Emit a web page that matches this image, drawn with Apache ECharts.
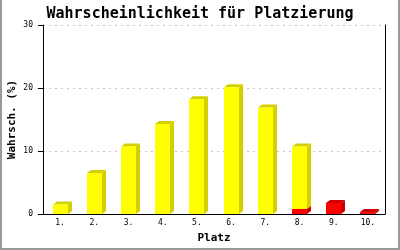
<!DOCTYPE html>
<html><head><meta charset="utf-8">
<script src="https://cdn.jsdelivr.net/npm/echarts@6/dist/echarts.min.js"></script>
<style>html,body{margin:0;padding:0;background:#fff}#c{width:400px;height:250px}</style>
</head><body><div id="c"></div>
<script>
const categories = ['1.','2.','3.','4.','5.','6.','7.','8.','9.','10.'];
const redValues = [0,0,0,0,0,0,0,0.8,1.75,0.3];
const yellowValues = [1.5,6.5,10.7,14.3,18.2,20.1,16.9,9.9,0,0];
const yTicks = [0,10,20,30];

const MONO = '"DejaVu Sans Mono","Liberation Mono",monospace';
function makeBox(front, dark){
  return function(params, api){
    const i = api.value(0), base = api.value(1), v = api.value(2);
    if (!(v > 0)) return null;
    const p0 = api.coord([i, base]);
    const p1 = api.coord([i, base + v]);
    const w = 15, dx = 4, dy = 3;
    const x0 = Math.round(p0[0] - w/2), x1 = x0 + w;
    const yb = p0[1], yt = p1[1];
    return {type:'group', children:[
      {type:'polygon', shape:{points:[[x1,yt],[x1+dx,yt-dy],[x1+dx,yb-dy],[x1,yb]]}, style:{fill:dark}},
      {type:'polygon', shape:{points:[[x0,yt],[x0+dx,yt-dy],[x1+dx,yt-dy],[x1,yt]]}, style:{fill:dark}},
      {type:'rect', shape:{x:x0, y:yt, width:w, height:yb-yt}, style:{fill:front}}
    ]};
  };
}
const redData = categories.map((c,i)=>[i, 0, redValues[i]]);
const yellowData = categories.map((c,i)=>[i, redValues[i], yellowValues[i]]);

const chart = echarts.init(document.getElementById('c'), null, {renderer:'canvas'});
chart.setOption({
  animation:false,
  backgroundColor:'#fff',
  title:{text:'Wahrscheinlichkeit für Platzierung', left:'center', top:2,
    textStyle:{fontFamily:MONO, fontSize:15, fontWeight:'bold', color:'#000'}},
  grid:{left:43, right:15, top:25, bottom:36, containLabel:false, outerBoundsMode:'none'},
  xAxis:{type:'category', data:categories, boundaryGap:true,
    name:'Platz', nameLocation:'middle', nameGap:19, nameMoveOverlap:false,
    nameTextStyle:{fontFamily:MONO, fontSize:11, fontWeight:'bold', color:'#000'},
    axisLine:{lineStyle:{color:'#000', width:1}}, axisTick:{show:false},
    axisLabel:{fontFamily:MONO, fontSize:8, color:'#000', margin:5}},
  yAxis:[{type:'value', min:0, max:30, interval:10,
    name:'Wahrsch. (%)', nameLocation:'middle', nameGap:25, nameRotate:90, nameMoveOverlap:false,
    nameTextStyle:{fontFamily:MONO, fontSize:11, fontWeight:'bold', color:'#000'},
    axisLine:{show:true, lineStyle:{color:'#000'}},
    axisTick:{show:true, length:5, lineStyle:{color:'#000'}},
    axisLabel:{fontFamily:MONO, fontSize:8, color:'#000', margin:10,
      formatter:v=>yTicks.includes(v)?String(v):''},
    splitLine:{show:true, lineStyle:{color:'#c4c4c4', type:[2,4], width:1}}},
   {type:'value', min:0, max:30, interval:10, position:'right',
    axisLine:{show:true, lineStyle:{color:'#000'}}, axisTick:{show:false},
    axisLabel:{show:false}, splitLine:{show:false}}],
  series:[
    {type:'custom', renderItem:makeBox('#ff0000','#cc0000'), data:redData, encode:{x:0,y:[1,2]}, z:2},
    {type:'custom', renderItem:makeBox('#ffff00','#d4d000'), data:yellowData, encode:{x:0,y:[1,2]}, z:3}
  ],
  graphic:[
    {type:'line', shape:{x1:1,y1:0,x2:1,y2:250}, style:{stroke:'#999',lineWidth:2}},
    {type:'line', shape:{x1:399,y1:0,x2:399,y2:250}, style:{stroke:'#999',lineWidth:2}},
    {type:'line', shape:{x1:0,y1:249,x2:400,y2:249}, style:{stroke:'#999',lineWidth:2}}
  ]
});
</script></body></html>
